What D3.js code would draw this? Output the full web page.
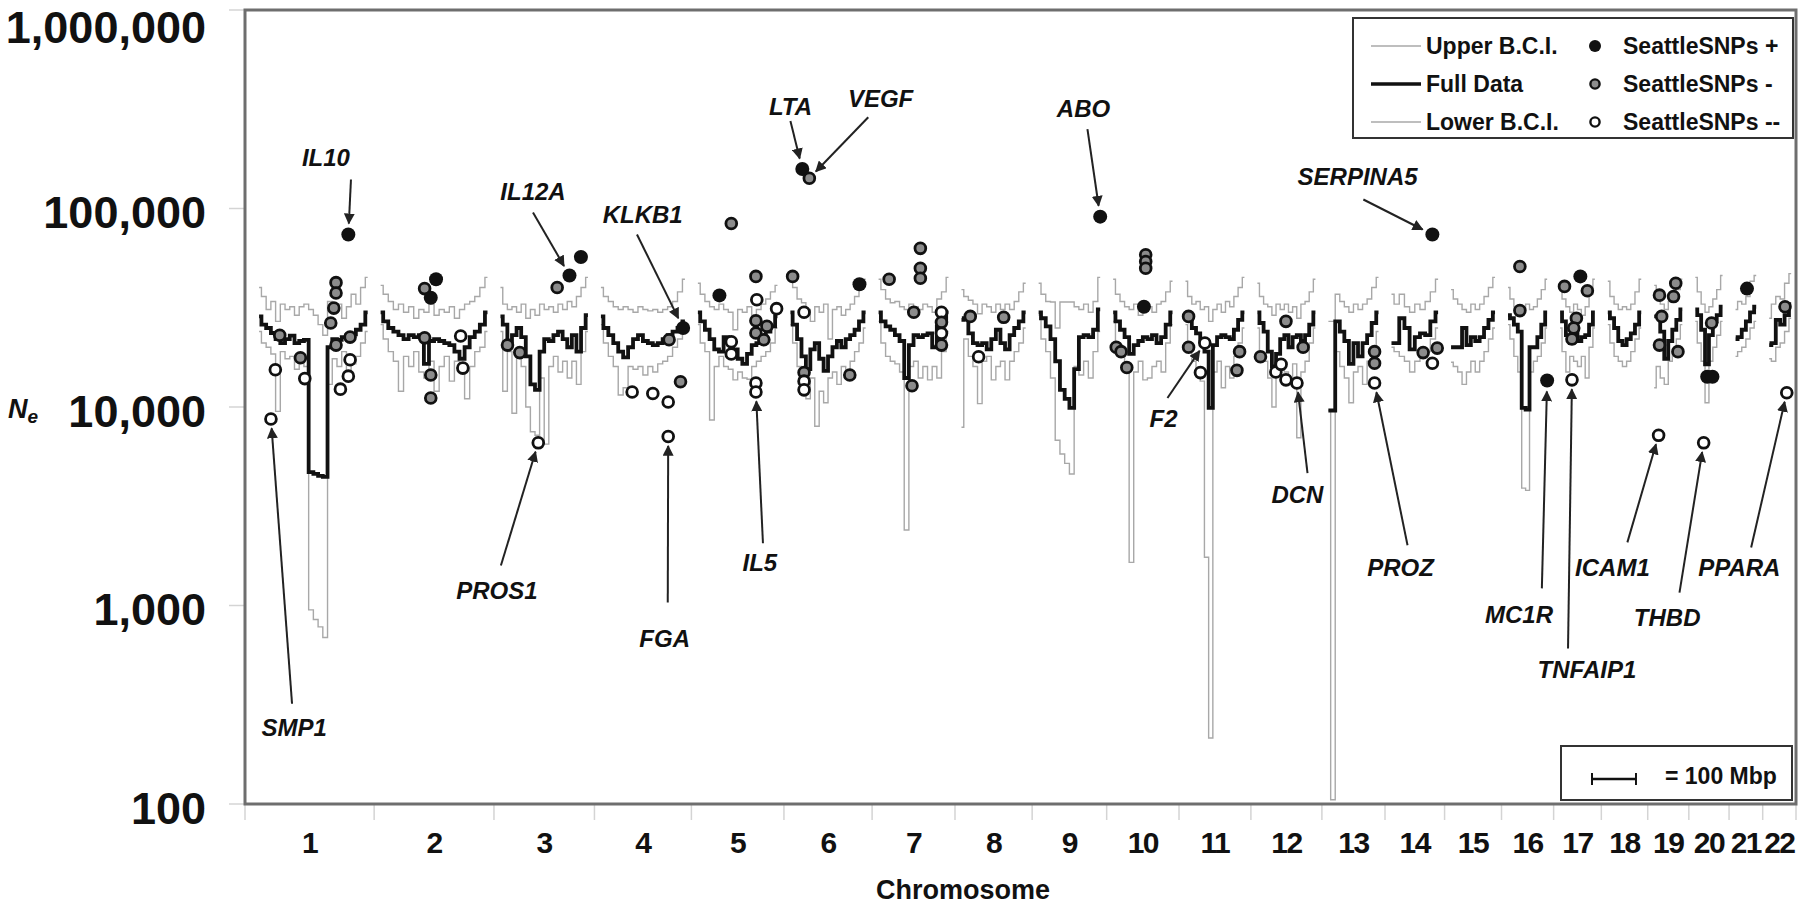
<!DOCTYPE html>
<html>
<head>
<meta charset="utf-8">
<script src="https://cdn.jsdelivr.net/npm/d3@7"></script>
<style>
  body { margin: 0; background: #fff; }
  svg { display: block; font-family: "Liberation Sans", Arial, sans-serif; }
</style>
</head>
<body>
<div id="chart"></div>
<script>
const width = 1800;
const height = 906;
const plot = { left: 245, right: 1796, top: 10, bottom: 804 };

// chromosomes and their lengths (Mbp)
const chromosomes = ["1","2","3","4","5","6","7","8","9","10","11","12","13","14","15","16","17","18","19","20","21","22"];
const chromLengths = [247, 243, 199, 191, 181, 171, 159, 146, 140, 135, 134, 132, 114, 106, 100, 89, 79, 76, 64, 62, 47, 50];
const yTicks = [100, 1000, 10000, 100000, 1000000];

// Ne in thousands, evenly spaced along each chromosome
const upperBCI = [
  [40, 36, 31, 34, 27, 33, 31, 32, 29, 32, 33, 31, 29, 26, 23, 34, 30, 33, 28, 32, 37, 33, 40, 45],
  [41, 37, 34, 31, 33, 30, 32, 28, 31, 30, 33, 29, 31, 30, 32, 28, 31, 33, 34, 36, 40, 45],
  [40, 33, 31, 32, 30, 33, 28, 31, 29, 33, 31, 32, 30, 33, 31, 34, 32, 36, 40, 45],
  [40, 36, 34, 32, 31, 32, 31, 30, 32, 31, 30.5, 31, 30, 31, 32, 34, 38, 44],
  [42, 37, 34, 32, 31, 33, 31, 30, 24.5, 31, 30, 32, 29, 31, 33, 35, 38, 41],
  [44, 40, 35, 33.5, 31, 27, 32, 30, 33, 22, 31, 32, 29, 31, 33, 36, 40, 44],
  [44, 39, 35, 33.5, 34, 32, 31, 33, 32, 31, 33, 32, 30, 35, 38, 45],
  [39, 36, 34.5, 33, 29.5, 33, 32, 30, 33, 31, 33, 31, 34, 38, 42],
  [42, 37, 34, 33.8, 25, 33.8, 33.8, 33.8, 32, 31, 33, 30, 34, 45],
  [44, 37, 34, 32, 31, 33, 29, 31, 32, 30, 33, 34, 38, 43],
  [43, 36, 33, 34, 31, 32, 27, 31, 33, 30, 34, 32, 36, 40, 45],
  [42, 36, 33, 32, 29, 33, 31, 33, 30, 32, 28, 33, 34, 38, 44],
  [27, 27, 37, 34, 32, 30, 33, 31, 33, 35, 40, 45],
  [37, 33, 37, 32, 30, 33, 31, 34, 38, 44],
  [39, 35, 33, 31, 30, 33, 31, 33, 36, 40, 45],
  [40, 35, 32, 29, 31, 33, 31, 32, 35, 39, 44],
  [40, 35, 32, 30, 33, 31, 29, 32, 37, 44],
  [43, 36, 33, 31, 32, 31, 33, 38, 44],
  [41, 37, 33, 31, 34, 36, 39, 44],
  [45, 38, 33, 30, 32, 35, 39, 46],
  [31, 34, 33, 36, 43, 46],
  [28, 33, 36, 35, 42, 47]
];

const fullData = [
  [28.6, 26, 25, 23.6, 22, 21, 22, 22.9, 21, 21.5, 21.8, 4.7, 4.6, 4.5, 4.45, 20, 22, 21.8, 22.5, 23, 23.2, 24.5, 26, 30],
  [30, 27, 25, 24, 23, 22, 23, 22.5, 23, 16.5, 21.5, 22, 21.5, 21, 20.5, 19, 17.5, 20, 22.5, 24, 26, 30],
  [28.6, 26, 21, 23, 25, 22.5, 18, 13, 12.2, 19, 22, 21.5, 23, 24, 22, 20, 23, 19, 25, 29],
  [28.6, 25, 23, 21, 19, 17.8, 20, 22, 23, 21.5, 21, 20.5, 21, 22, 23, 24, 25, 27],
  [30, 27, 24.5, 22, 19.5, 19, 22.5, 21, 19.5, 17.5, 16.5, 18.5, 20.5, 21, 22.5, 24, 25.5, 28.6],
  [30, 26, 22, 18, 15.5, 19.5, 21, 17.5, 15.2, 18, 20, 21.5, 20, 22, 23, 24.5, 27, 30],
  [30, 27, 25.5, 24.5, 23, 21.5, 14, 20.5, 23, 22.5, 23, 23.5, 20, 25.5, 28, 30],
  [27.5, 28, 23.5, 21, 20.5, 21, 19.5, 22, 24.5, 21, 19.5, 23, 25, 27, 30],
  [30, 28, 25.5, 22, 17, 12.2, 11, 9.9, 15.5, 22.5, 23, 22.5, 24.5, 31],
  [30, 27, 24.5, 22.5, 18.5, 20.5, 21.5, 22.5, 22, 23, 21, 22.5, 26, 30],
  [30, 27.5, 25, 23.5, 21.5, 19, 9.9, 20.5, 22.5, 23, 22.5, 22, 24.5, 27.5, 30],
  [30, 26.5, 24, 19, 16, 18.5, 22, 23, 20, 22.5, 23, 21.5, 23, 26, 30],
  [9.6, 9.6, 27, 24, 21.5, 16.5, 21, 18, 21, 23, 26.5, 30],
  [21, 21, 28, 25, 19.5, 22.5, 23.5, 23, 27, 30],
  [20, 20, 20, 25, 20.5, 22.5, 21.5, 22.5, 25, 27.5, 30],
  [29, 28, 26, 24, 9.9, 9.7, 20, 20, 22.5, 26, 30],
  [30, 27, 23, 21, 24, 21.5, 22.5, 23, 26, 30],
  [30, 28, 25, 21.5, 20.5, 22, 23.5, 26, 30],
  [28.6, 28.6, 24, 17.5, 21.5, 24.5, 27.5, 31],
  [31, 29, 24.5, 16.4, 23, 27, 29, 32],
  [22, 22.5, 24.5, 27, 30, 32],
  [20.5, 21, 27.5, 26, 29, 33]
];

const lowerBCI = [
  [24, 21, 20, 18.5, 9.5, 19, 17.5, 18, 15.5, 17, 16, 0.95, 0.85, 0.78, 0.69, 13, 17.5, 16, 19, 15, 16.5, 18, 21, 24],
  [26, 22, 19, 17, 12, 18, 16, 19, 15, 14, 17, 12, 16, 18, 13.5, 17, 15, 11, 16, 19, 20, 24],
  [24, 12, 19, 9.3, 18, 16, 10, 7.5, 7.2, 14, 6.5, 16, 18, 15, 17, 14, 17, 13, 19, 24],
  [26, 21, 18, 16, 11.5, 12.5, 16, 15.5, 16, 14.5, 16, 15, 16.5, 17, 18, 20, 22, 25],
  [26, 21, 19, 8.6, 16, 18, 16, 15.5, 13.7, 15, 14, 13.8, 16, 17, 18, 19, 21, 25],
  [26, 21, 16, 13, 11, 14, 8, 12, 10.5, 14, 15, 13, 16, 15, 17, 19, 21, 25],
  [27, 21, 18, 17, 16.5, 15, 2.4, 16, 17, 14, 16, 13.7, 16, 14, 19, 24],
  [7.9, 22, 18, 16, 10.4, 17, 18, 13.7, 16, 17, 13.7, 17, 19, 21, 25],
  [29, 22, 19, 14, 6.8, 5.8, 5.2, 4.6, 16, 14.5, 17, 14, 19, 24],
  [27, 21, 18.5, 16, 1.65, 15, 17, 13.7, 14, 16, 17, 15, 21, 26],
  [26, 19, 17, 15, 13.5, 1.75, 0.215, 15, 17, 12.5, 16, 14, 18, 21, 25],
  [25, 19, 17, 14, 10, 16, 17, 15, 14, 16.5, 7, 15, 17, 21, 25],
  [9.6, 0.105, 19, 16, 14, 10.5, 15, 16, 13, 17, 20, 24],
  [20, 19, 18, 17, 15, 17, 18, 19, 22, 25],
  [16.8, 16, 15, 13, 15, 17, 15, 17, 19, 22, 25],
  [26, 22, 18, 15, 3.9, 3.8, 15, 17, 18, 21, 25],
  [25, 19, 15, 18, 17, 16, 18, 14, 20, 25],
  [26, 21, 18, 17, 16, 17, 19, 22, 25],
  [12.5, 16, 14, 13, 17, 19, 22, 26],
  [27, 21, 17, 10.5, 17, 20, 23, 27],
  [18, 19, 20, 22, 25, 27],
  [17.5, 17, 20, 21, 24, 28]
];

// SeattleSNPs genes: [chromosome, position Mbp, Ne thousands, class, gene]
const snpPoints = [
  [1, 203, 74, "+", "IL10"], [1, 175, 42.3, "-"], [1, 175, 37.5, "-"], [1, 170, 31.5, "-"],
  [1, 163, 26.5, "-"], [1, 175, 20.5, "-"], [1, 207, 22.5, "-"], [1, 47, 23, "-"], [1, 94, 17.7, "-"],
  [1, 37, 15.4, "--"], [1, 104, 13.9, "--"], [1, 207, 17.3, "--"], [1, 203, 14.3, "--"],
  [1, 185, 12.3, "--"], [1, 27, 8.7, "--", "SMP1"],
  [2, 126, 44, "+"], [2, 100, 39.5, "-"], [2, 114, 35.5, "+"], [2, 100, 22.3, "-"],
  [2, 114, 14.5, "-"], [2, 114, 11.1, "-"], [2, 182, 22.8, "--"], [2, 187, 15.7, "--"],
  [3, 16, 20.5, "-"], [3, 44, 18.8, "-"], [3, 86, 6.6, "--", "PROS1"], [3, 129, 40, "-"],
  [3, 157, 46, "+", "IL12A"], [3, 183, 57, "+"],
  [4, 155, 21.8, "-"], [4, 187, 25, "+", "KLKB1"], [4, 181, 13.4, "-"], [4, 71, 11.9, "--"],
  [4, 118, 11.7, "--"], [4, 153, 10.6, "--"], [4, 153, 7.1, "--", "FGA"],
  [5, 49, 36.5, "+"], [5, 76, 84, "-"], [5, 132, 45.5, "-"], [5, 134, 34.7, "--"], [5, 179, 31.3, "--"],
  [5, 132, 27.2, "-"], [5, 157, 25.5, "-"], [5, 132, 23.6, "-"], [5, 150, 21.8, "-"],
  [5, 76, 21.3, "--"], [5, 76, 18.5, "--"], [5, 132, 13.2, "--"], [5, 132, 11.9, "--", "IL5"],
  [6, 5, 45.5, "-"], [6, 31, 30, "--"], [6, 31, 14.9, "-"], [6, 31, 13.5, "--"], [6, 31, 12.2, "--"],
  [6, 27, 158, "+", "LTA"], [6, 43, 142, "-", "VEGF"], [6, 135, 14.5, "-"], [6, 157, 41.5, "+"],
  [7, 24, 44, "-"], [7, 95, 63, "-"], [7, 95, 50, "-"], [7, 95, 44.5, "-"], [7, 80, 30, "-"],
  [7, 143, 30, "--"], [7, 143, 26.7, "-"], [7, 143, 23.5, "--"], [7, 143, 20.5, "-"], [7, 76, 12.8, "-"],
  [8, 20, 28.6, "-"], [8, 96, 28.3, "-"], [8, 39, 17.9, "--"],
  [9, 140, 91, "+", "ABO"],
  [10, 74, 58.5, "-"], [10, 74, 54, "-"], [10, 74, 50, "-"], [10, 70, 32, "+"],
  [10, 7, 20, "-"], [10, 18, 19, "-"], [10, 31, 15.8, "-"],
  [11, 7, 28.6, "-"], [11, 7, 20, "-"], [11, 44, 21, "--", "F2"], [11, 34, 14.9, "--"],
  [11, 123, 19, "-"], [11, 117, 15.3, "-"],
  [12, 65, 27, "-"], [12, 7, 17.9, "-"], [12, 104, 20, "-"], [12, 42, 15, "--"],
  [12, 54, 16.4, "--"], [12, 65, 13.7, "--"], [12, 90, 13.2, "--", "DCN"],
  [13, 105, 19, "-"], [13, 105, 16.6, "-"], [13, 105, 13.2, "--", "PROZ"],
  [14, 93, 74, "+", "SERPINA5"], [14, 72, 18.8, "-"], [14, 104, 19.8, "-"], [14, 93, 16.6, "--"],
  [16, 27, 51, "-"], [16, 27, 30.6, "-"], [16, 89, 13.6, "+", "MC1R"],
  [17, 10, 40.5, "-"], [17, 46, 45.5, "+"], [17, 62, 38.5, "-"], [17, 37, 28, "-"],
  [17, 31, 25, "-"], [17, 27, 22, "-"], [17, 27, 13.7, "--", "TNFAIP1"],
  [19, 12, 36.6, "-"], [19, 49, 42, "-"], [19, 44, 36, "-"], [19, 17, 28.6, "-"],
  [19, 12, 20.5, "-"], [19, 54, 19, "-"], [19, 10, 7.2, "--", "ICAM1"],
  [20, 37, 26.5, "-"], [20, 27, 14.2, "+"], [20, 39, 14.2, "+"], [20, 19, 6.6, "--", "THBD"],
  [21, 26, 39.5, "+"],
  [22, 36, 32, "-"], [22, 40, 11.8, "--", "PPARA"]
];

// gene labels: chromosome, label [Mbp, Ne], arrow tail [Mbp, Ne]
const annotations = [
  { gene: "IL10", chr: 1, label: [152, 181000], tail: [209, 140000] },
  { gene: "SMP1", chr: 1, label: [80, 242], tail: [75, 320] },
  { gene: "IL12A", chr: 3, label: [74, 122000], tail: [74, 95500] },
  { gene: "PROS1", chr: 3, label: [-8, 1190], tail: [1, 1590] },
  { gene: "KLKB1", chr: 4, label: [95, 93000], tail: [82, 74000] },
  { gene: "FGA", chr: 4, label: [145, 681], tail: [152, 1035] },
  { gene: "IL5", chr: 5, label: [141, 1650], tail: [148, 2060] },
  { gene: "LTA", chr: 6, label: [0, 327000], tail: [0, 276000] },
  { gene: "VEGF", chr: 6, label: [205, 359000], tail: [177, 288000] },
  { gene: "ABO", chr: 9, label: [102, 320000], tail: [111, 251000] },
  { gene: "SERPINA5", chr: 14, label: [-77, 145000], tail: [-64, 111000] },
  { gene: "F2", chr: 11, label: [-50, 8800], tail: [-41, 11100] },
  { gene: "DCN", chr: 12, label: [91, 3630], tail: [114, 4640] },
  { gene: "PROZ", chr: 13, label: [164, 1560], tail: [180, 2010] },
  { gene: "MC1R", chr: 16, label: [25, 901], tail: [77, 1220] },
  { gene: "TNFAIP1", chr: 17, label: [61, 475], tail: [18, 607] },
  { gene: "ICAM1", chr: 19, label: [-95, 1560], tail: [-61, 2080] },
  { gene: "THBD", chr: 20, label: [-64, 869], tail: [-36, 1160] },
  { gene: "PPARA", chr: 22, label: [-68, 1560], tail: [-41, 1960] }
];

// GENOME COORDINATES
const leadMbp = 32, gapMbp = 29.5, tailMbp = 11;
const chromStarts = [];
let acc = leadMbp;
chromLengths.forEach((len) => {
  chromStarts.push(acc);
  acc += len + gapMbp;
});
const genomeTotal = acc - gapMbp + tailMbp;
const boundaries = [0]
  .concat(chromStarts.slice(1).map((s) => s - gapMbp / 2))
  .concat([genomeTotal]);

// SCALES
const xScale = d3.scaleLinear().domain([0, genomeTotal]).range([plot.left, plot.right]);
const yScale = d3.scaleLog().domain([100, 1000000]).range([plot.bottom, plot.top]);
const gx = (chr, mbp) => xScale(chromStarts[chr - 1] + mbp);

const svg = d3
  .select("#chart")
  .append("svg")
  .attr("width", width)
  .attr("height", height);

svg.append("rect").attr("width", width).attr("height", height).attr("fill", "#fff");

// AXIS TICKS (light gray)
svg
  .selectAll("line.ytick")
  .data(yTicks)
  .enter()
  .append("line")
  .attr("class", "ytick")
  .attr("x1", plot.left - 16)
  .attr("x2", plot.left)
  .attr("y1", (d) => yScale(d))
  .attr("y2", (d) => yScale(d))
  .attr("stroke", "#d4d4d4")
  .attr("stroke-width", 1.5);

svg
  .selectAll("line.xtick")
  .data(boundaries)
  .enter()
  .append("line")
  .attr("class", "xtick")
  .attr("x1", (d) => xScale(d))
  .attr("x2", (d) => xScale(d))
  .attr("y1", plot.bottom)
  .attr("y2", plot.bottom + 16)
  .attr("stroke", "#d4d4d4")
  .attr("stroke-width", 1.5);

// LINES
const lineGen = d3.line().curve(d3.curveStep);
function seriesPath(values, chrIdx) {
  const len = chromLengths[chrIdx];
  const n = values.length;
  return lineGen(
    values.map((v, i) => [gx(chrIdx + 1, (i / (n - 1)) * len), yScale(v * 1000)])
  );
}

const lines = svg.append("g").attr("class", "lines");
[
  { data: upperBCI, color: "#a8a8a8", w: 1.4 },
  { data: lowerBCI, color: "#a8a8a8", w: 1.4 },
  { data: fullData, color: "#111", w: 3.8 },
].forEach((s) => {
  lines
    .selectAll(null)
    .data(s.data)
    .enter()
    .append("path")
    .attr("d", (d, i) => seriesPath(d, i))
    .attr("fill", "none")
    .attr("stroke", s.color)
    .attr("stroke-width", s.w)
    .attr("stroke-linejoin", "miter");
});

// POINTS
const pointStyle = {
  "+": { r: 7, fill: "#111", sw: 0 },
  "-": { r: 5.4, fill: "#8c8c8c", sw: 2.8 },
  "--": { r: 5.4, fill: "#fff", sw: 2.8 },
};

svg
  .append("g")
  .selectAll("circle")
  .data(snpPoints)
  .enter()
  .append("circle")
  .attr("cx", (d) => gx(d[0], d[1]))
  .attr("cy", (d) => yScale(d[2] * 1000))
  .attr("r", (d) => pointStyle[d[3]].r)
  .attr("fill", (d) => pointStyle[d[3]].fill)
  .attr("stroke", "#111")
  .attr("stroke-width", (d) => pointStyle[d[3]].sw);

// ANNOTATIONS
svg
  .append("defs")
  .append("marker")
  .attr("id", "arrowhead")
  .attr("viewBox", "0 0 10 10")
  .attr("refX", 9)
  .attr("refY", 5)
  .attr("markerWidth", 5.5)
  .attr("markerHeight", 5.5)
  .attr("orient", "auto")
  .append("path")
  .attr("d", "M0,0 L10,5 L0,10 z")
  .attr("fill", "#222");

const annG = svg.append("g");
annotations.forEach((a) => {
  const p = snpPoints.find((d) => d[4] === a.gene);
  const px = gx(p[0], p[1]);
  const py = yScale(p[2] * 1000);
  const tx = gx(a.chr, a.tail[0]);
  const ty = yScale(a.tail[1]);
  const dist = Math.hypot(px - tx, py - ty);
  const cut = pointStyle[p[3]].r + 4;
  annG
    .append("line")
    .attr("x1", tx)
    .attr("y1", ty)
    .attr("x2", px - ((px - tx) / dist) * cut)
    .attr("y2", py - ((py - ty) / dist) * cut)
    .attr("stroke", "#222")
    .attr("stroke-width", 2)
    .attr("marker-end", "url(#arrowhead)");
  annG
    .append("text")
    .text(a.gene)
    .attr("x", gx(a.chr, a.label[0]))
    .attr("y", yScale(a.label[1]))
    .attr("text-anchor", "middle")
    .attr("dominant-baseline", "central")
    .style("font-size", "24px")
    .style("font-weight", "bold")
    .style("font-style", "italic")
    .attr("fill", "#111");
});

// FRAME
svg
  .append("rect")
  .attr("x", plot.left)
  .attr("y", plot.top)
  .attr("width", plot.right - plot.left)
  .attr("height", plot.bottom - plot.top)
  .attr("fill", "none")
  .attr("stroke", "#6e6e6e")
  .attr("stroke-width", 3);

// Y LABELS
svg
  .selectAll("text.ylabel")
  .data(yTicks)
  .enter()
  .append("text")
  .attr("class", "ylabel")
  .text((d) => d3.format(",")(d))
  .attr("x", 206)
  .attr("y", (d) => Math.max(yScale(d) + 4, 27))
  .attr("text-anchor", "end")
  .attr("dominant-baseline", "central")
  .style("font-size", "45px")
  .style("font-weight", "bold")
  .attr("fill", "#111");

const neLabel = svg
  .append("text")
  .attr("x", 8)
  .attr("y", 418)
  .style("font-weight", "bold")
  .style("font-style", "italic")
  .attr("fill", "#111");
neLabel.append("tspan").text("N").style("font-size", "27px");
neLabel.append("tspan").text("e").attr("dy", 5).style("font-size", "19px");

// X LABELS
svg
  .selectAll("text.xlabel")
  .data(chromosomes)
  .enter()
  .append("text")
  .attr("class", "xlabel")
  .text((d) => d)
  .attr("x", (d, i) => (xScale(boundaries[i]) + xScale(boundaries[i + 1])) / 2)
  .attr("y", 842)
  .attr("text-anchor", "middle")
  .attr("dominant-baseline", "central")
  .style("font-size", "30px")
  .style("font-weight", "bold")
  .style("letter-spacing", "-1.5px")
  .attr("fill", "#111");

svg
  .append("text")
  .text("Chromosome")
  .attr("x", 963)
  .attr("y", 890)
  .attr("text-anchor", "middle")
  .attr("dominant-baseline", "central")
  .style("font-size", "27px")
  .style("font-weight", "bold")
  .attr("fill", "#111");

// LEGEND
const legend = svg.append("g");
legend
  .append("rect")
  .attr("x", 1353)
  .attr("y", 18)
  .attr("width", 440)
  .attr("height", 120)
  .attr("fill", "#fff")
  .attr("stroke", "#333")
  .attr("stroke-width", 2);

const legendLines = [
  { label: "Upper B.C.I.", color: "#a8a8a8", w: 1.6 },
  { label: "Full Data", color: "#111", w: 3.5 },
  { label: "Lower B.C.I.", color: "#a8a8a8", w: 1.6 },
];
const legendDots = [
  { label: "SeattleSNPs +", type: "+" },
  { label: "SeattleSNPs -", type: "-" },
  { label: "SeattleSNPs --", type: "--" },
];
const rowY = [46, 84, 122];

legendLines.forEach((d, i) => {
  legend
    .append("line")
    .attr("x1", 1371)
    .attr("x2", 1421)
    .attr("y1", rowY[i])
    .attr("y2", rowY[i])
    .attr("stroke", d.color)
    .attr("stroke-width", d.w);
  legend
    .append("text")
    .text(d.label)
    .attr("x", 1426)
    .attr("y", rowY[i])
    .attr("dominant-baseline", "central")
    .style("font-size", "23px")
    .style("font-weight", "bold")
    .attr("fill", "#111");
});

legendDots.forEach((d, i) => {
  const st = pointStyle[d.type];
  legend
    .append("circle")
    .attr("cx", 1595)
    .attr("cy", rowY[i])
    .attr("r", d.type === "+" ? 6 : 4.6)
    .attr("fill", st.fill)
    .attr("stroke", "#111")
    .attr("stroke-width", st.sw ? 2.4 : 0);
  legend
    .append("text")
    .text(d.label)
    .attr("x", 1623)
    .attr("y", rowY[i])
    .attr("dominant-baseline", "central")
    .style("font-size", "23px")
    .style("font-weight", "bold")
    .attr("fill", "#111");
});

// SCALE BAR
const scaleBox = svg.append("g");
scaleBox
  .append("rect")
  .attr("x", 1561)
  .attr("y", 746)
  .attr("width", 231)
  .attr("height", 54)
  .attr("fill", "#fff")
  .attr("stroke", "#333")
  .attr("stroke-width", 2);
const barX0 = 1592;
const barX1 = barX0 + (xScale(100) - xScale(0));
scaleBox
  .append("line")
  .attr("x1", barX0)
  .attr("x2", barX1)
  .attr("y1", 779)
  .attr("y2", 779)
  .attr("stroke", "#111")
  .attr("stroke-width", 2.5);
[barX0, barX1].forEach((bx) => {
  scaleBox
    .append("line")
    .attr("x1", bx)
    .attr("x2", bx)
    .attr("y1", 773)
    .attr("y2", 785)
    .attr("stroke", "#111")
    .attr("stroke-width", 2);
});
scaleBox
  .append("text")
  .text("= 100 Mbp")
  .attr("x", 1665)
  .attr("y", 776)
  .attr("dominant-baseline", "central")
  .style("font-size", "23px")
  .style("font-weight", "bold")
  .attr("fill", "#111");
</script>
</body>
</html>
